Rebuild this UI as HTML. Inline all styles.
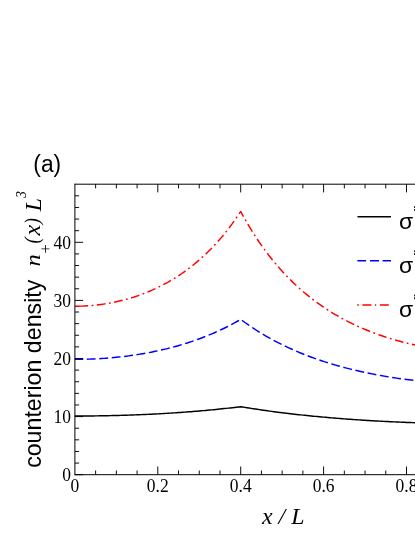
<!DOCTYPE html>
<html><head><meta charset="utf-8"><title>fig</title>
<style>
html,body{margin:0;padding:0;background:#fff;}
body{width:415px;height:537px;overflow:hidden;}
svg{display:block;}
text{fill:#000;}
.tk{font-family:"Liberation Serif",serif;font-size:17.5px;}
.sans{font-family:"Liberation Sans",sans-serif;font-size:23.4px;}
.it{font-family:"Liberation Serif",serif;font-style:italic;font-size:23.4px;}
.its{font-family:"Liberation Serif",serif;font-style:italic;font-size:15px;}
.rs{font-family:"Liberation Serif",serif;font-size:14px;}
</style></head><body>
<svg style="will-change:transform" width="415" height="537" viewBox="0 0 415 537">
<rect width="415" height="537" fill="#fff"/>
<path d="M74.90 416.02 L76.97 416.02 L79.05 416.01 L81.12 416.01 L83.19 416.00 L85.26 415.99 L87.34 415.97 L89.41 415.95 L91.48 415.93 L93.55 415.91 L95.62 415.89 L97.70 415.86 L99.77 415.83 L101.84 415.80 L103.92 415.76 L105.99 415.72 L108.06 415.68 L110.13 415.64 L112.21 415.59 L114.28 415.54 L116.35 415.49 L118.42 415.43 L120.50 415.37 L122.57 415.31 L124.64 415.25 L126.71 415.18 L128.79 415.12 L130.86 415.04 L132.93 414.97 L135.00 414.89 L137.07 414.81 L139.15 414.73 L141.22 414.64 L143.29 414.56 L145.37 414.46 L147.44 414.37 L149.51 414.27 L151.58 414.17 L153.66 414.07 L155.73 413.96 L157.80 413.85 L159.87 413.74 L161.94 413.62 L164.02 413.51 L166.09 413.38 L168.16 413.26 L170.24 413.13 L172.31 413.00 L174.38 412.86 L176.45 412.73 L178.53 412.59 L180.60 412.44 L182.67 412.29 L184.74 412.14 L186.81 411.99 L188.89 411.83 L190.96 411.67 L193.03 411.51 L195.11 411.34 L197.18 411.17 L199.25 410.99 L201.32 410.81 L203.40 410.63 L205.47 410.44 L207.54 410.25 L209.61 410.06 L211.69 409.86 L213.76 409.66 L215.83 409.46 L217.90 409.25 L219.98 409.03 L222.05 408.82 L224.12 408.59 L226.19 408.37 L228.27 408.14 L230.34 407.91 L232.41 407.67 L234.48 407.43 L236.56 407.18 L238.63 406.93 L240.70 406.67 L242.77 407.02 L244.85 407.36 L246.92 407.70 L248.99 408.04 L251.06 408.36 L253.13 408.69 L255.21 409.00 L257.28 409.32 L259.35 409.63 L261.43 409.93 L263.50 410.23 L265.57 410.52 L267.64 410.81 L269.72 411.10 L271.79 411.38 L273.86 411.66 L275.93 411.93 L278.00 412.20 L280.08 412.46 L282.15 412.72 L284.22 412.98 L286.30 413.23 L288.37 413.48 L290.44 413.72 L292.51 413.96 L294.59 414.20 L296.66 414.43 L298.73 414.66 L300.80 414.89 L302.88 415.11 L304.95 415.33 L307.02 415.54 L309.09 415.76 L311.16 415.96 L313.24 416.17 L315.31 416.37 L317.38 416.57 L319.45 416.76 L321.53 416.96 L323.60 417.14 L325.67 417.33 L327.75 417.51 L329.82 417.69 L331.89 417.87 L333.96 418.04 L336.03 418.21 L338.11 418.38 L340.18 418.54 L342.25 418.70 L344.32 418.86 L346.40 419.02 L348.47 419.17 L350.54 419.32 L352.62 419.47 L354.69 419.61 L356.76 419.75 L358.83 419.89 L360.90 420.03 L362.98 420.16 L365.05 420.30 L367.12 420.42 L369.19 420.55 L371.27 420.67 L373.34 420.80 L375.41 420.91 L377.49 421.03 L379.56 421.14 L381.63 421.26 L383.70 421.36 L385.77 421.47 L387.85 421.57 L389.92 421.68 L391.99 421.78 L394.07 421.87 L396.14 421.97 L398.21 422.06 L400.28 422.15 L402.36 422.24 L404.43 422.32 L406.50 422.41 L408.57 422.49 L410.64 422.57 L412.72 422.64 L414.79 422.72 L416.86 422.79 L418.93 422.86 L421.01 422.93 L423.08 422.99" stroke="#000" stroke-width="1.45" fill="none" stroke-linejoin="round"/>
<path d="M74.90 359.37 L76.97 359.37 L79.05 359.35 L81.53 359.32 L83.24 359.29 M86.83 359.20 L88.99 359.14 L91.48 359.04 L93.55 358.96 L95.71 358.86 M99.30 358.66 L101.43 358.53 L103.92 358.36 L105.99 358.21 L108.16 358.05 M111.74 357.74 L113.86 357.55 L116.35 357.30 L118.42 357.09 L120.59 356.85 M124.15 356.44 L126.30 356.17 L128.79 355.85 L130.86 355.57 L132.97 355.27 M136.52 354.74 L138.73 354.39 L140.81 354.05 L142.88 353.70 L145.28 353.28 M148.82 352.62 L151.17 352.17 L153.24 351.76 L155.31 351.33 L157.53 350.86 M161.03 350.08 L163.19 349.58 L165.26 349.09 L167.33 348.59 L169.67 348.00 M173.15 347.09 L175.21 346.53 L177.28 345.95 L179.77 345.24 L181.70 344.67 M185.14 343.63 L187.23 342.97 L189.30 342.30 L191.37 341.61 L193.59 340.86 M196.97 339.67 L198.84 339.00 L200.91 338.23 L203.40 337.28 L205.29 336.54 M208.62 335.20 L210.44 334.45 L212.51 333.57 L215.00 332.49 L216.79 331.69 M220.05 330.19 L222.05 329.25 L224.12 328.25 L226.19 327.23 L228.04 326.29 M231.23 324.64 L233.24 323.56 L235.31 322.43 L236.97 321.50 L239.01 320.34 M242.01 320.33 L243.60 321.50 L245.67 322.99 L247.75 324.45 L249.25 325.49 M252.22 327.50 L253.96 328.65 L256.04 329.99 L257.69 331.04 L259.71 332.30 M262.78 334.16 L264.74 335.32 L266.81 336.52 L268.47 337.46 L270.49 338.59 M273.64 340.30 L275.52 341.30 L277.59 342.38 L279.66 343.43 L281.54 344.37 M284.77 345.94 L286.71 346.86 L288.78 347.83 L290.85 348.77 L292.85 349.66 M296.14 351.09 L297.90 351.84 L299.97 352.71 L302.46 353.72 L304.36 354.48 M307.71 355.78 L309.51 356.46 L311.58 357.23 L314.07 358.13 L316.05 358.84 M319.44 360.01 L321.53 360.72 L323.60 361.40 L325.67 362.07 L327.89 362.77 M331.33 363.83 L333.55 364.50 L335.62 365.10 L337.69 365.70 L339.86 366.31 M343.33 367.25 L345.57 367.85 L347.64 368.38 L349.71 368.91 L351.94 369.46 M355.43 370.30 L357.59 370.81 L359.66 371.28 L361.73 371.75 L364.10 372.26 M367.61 373.01 L370.02 373.50 L372.10 373.91 L374.17 374.32 L376.33 374.73 M379.86 375.38 L382.04 375.77 L384.12 376.13 L386.19 376.49 L388.62 376.89 M392.17 377.46 L394.48 377.81 L396.55 378.12 L398.62 378.42 L400.96 378.76 M404.52 379.24 L406.91 379.55 L408.99 379.82 L411.06 380.07 L413.34 380.34 M416.91 380.75 L418.52 380.93 L420.18 381.11 L421.42 381.24 L423.08 381.41" stroke="#0000ff" stroke-width="1.45" fill="none" stroke-linejoin="round"/>
<path d="M74.90 306.21 L78.22 306.18 L81.53 306.10 L84.85 305.96 L88.13 305.77 M91.61 305.50 L91.89 305.48 L92.31 305.44 L93.14 305.36 L93.40 305.34 M96.87 304.98 L98.94 304.73 L101.01 304.47 L103.50 304.12 L105.48 303.81 M108.93 303.24 L109.30 303.17 L109.72 303.10 L110.55 302.94 L110.70 302.92 M114.12 302.25 L116.35 301.77 L118.42 301.31 L120.50 300.82 L122.59 300.30 M125.97 299.42 L126.30 299.32 L126.71 299.21 L127.54 298.98 L127.70 298.93 M131.05 297.95 L132.93 297.37 L135.00 296.70 L137.49 295.87 L139.30 295.23 M142.58 294.03 L142.88 293.92 L143.29 293.76 L144.12 293.44 L144.26 293.39 M147.50 292.09 L149.51 291.26 L151.58 290.36 L153.66 289.44 L155.46 288.61 M158.61 287.10 L158.63 287.09 L159.04 286.89 L159.87 286.47 L160.22 286.30 M163.32 284.70 L165.26 283.67 L167.33 282.53 L168.99 281.59 L170.91 280.47 M173.90 278.67 L173.97 278.63 L174.38 278.38 L175.21 277.86 L175.43 277.72 M178.37 275.83 L179.77 274.91 L181.84 273.50 L183.91 272.06 L185.52 270.90 M188.33 268.83 L188.47 268.72 L188.89 268.41 L189.72 267.78 L189.76 267.74 M192.51 265.59 L193.86 264.51 L195.52 263.15 L197.59 261.40 L199.19 260.03 M201.80 257.71 L202.15 257.39 L202.57 257.01 L202.98 256.63 L203.13 256.50 M205.67 254.11 L207.13 252.72 L208.78 251.09 L210.44 249.42 L211.84 247.99 M214.25 245.46 L214.59 245.10 L215.00 244.65 L215.42 244.20 L215.47 244.14 M217.81 241.56 L219.15 240.05 L220.80 238.14 L222.05 236.67 L223.47 234.96 M225.68 232.26 L225.78 232.13 L226.19 231.61 L226.61 231.09 L226.80 230.85 M228.94 228.09 L230.34 226.26 L231.58 224.59 L232.82 222.90 L234.11 221.11 M236.13 218.26 L236.14 218.24 L236.56 217.64 L236.97 217.04 L237.15 216.78 M239.10 213.89 L240.29 212.10 L240.70 211.47 L241.53 213.01 L242.36 214.53 L243.47 216.56 M245.18 219.60 L245.26 219.73 L245.67 220.46 L246.08 221.16 M247.83 224.18 L248.99 226.13 L250.23 228.19 L251.48 230.22 L252.34 231.61 M254.21 234.55 L254.38 234.82 L254.79 235.46 L255.18 236.07 M257.10 238.98 L258.11 240.49 L259.35 242.32 L261.01 244.71 L262.02 246.14 M264.06 248.98 L264.33 249.35 L264.74 249.92 L265.12 250.43 M267.21 253.23 L268.47 254.88 L269.72 256.48 L270.96 258.06 L272.57 260.07 M274.78 262.76 L275.10 263.15 L275.52 263.64 L275.93 264.13 L275.94 264.14 M278.21 266.79 L279.66 268.45 L281.32 270.31 L282.56 271.68 L284.02 273.25 M286.42 275.79 L286.71 276.09 L287.12 276.52 L287.54 276.95 L287.67 277.08 M290.12 279.57 L291.68 281.11 L293.34 282.72 L295.00 284.29 L296.39 285.59 M298.97 287.94 L299.14 288.10 L299.56 288.47 L299.97 288.84 L300.31 289.14 M302.94 291.43 L304.53 292.78 L306.19 294.16 L308.26 295.85 L309.65 296.96 M312.40 299.10 L312.41 299.11 L312.82 299.43 L313.65 300.06 L313.83 300.19 M316.63 302.27 L318.21 303.42 L320.28 304.89 L322.36 306.33 L323.74 307.27 M326.65 309.20 L326.92 309.37 L327.33 309.64 L328.16 310.17 L328.17 310.17 M331.12 312.03 L333.13 313.27 L335.21 314.51 L336.86 315.48 L338.59 316.47 M341.64 318.17 L341.84 318.28 L342.25 318.51 L343.08 318.96 L343.22 319.03 M346.30 320.67 L348.06 321.57 L350.13 322.62 L352.20 323.64 L354.08 324.54 M357.24 326.02 L357.59 326.17 L358.00 326.36 L358.83 326.74 L358.88 326.76 M362.07 328.17 L363.81 328.91 L365.88 329.78 L368.37 330.79 L370.11 331.49 M373.36 332.74 L373.75 332.89 L374.17 333.05 L375.00 333.36 L375.05 333.37 M378.33 334.57 L380.39 335.29 L382.46 336.00 L384.53 336.69 L386.56 337.35 M389.89 338.39 L390.33 338.53 L390.75 338.66 L391.16 338.78 L391.61 338.92 M394.96 339.90 L396.97 340.47 L399.04 341.04 L401.53 341.70 L403.35 342.18 M406.73 343.02 L406.91 343.07 L407.33 343.17 L408.16 343.37 L408.48 343.44 M411.88 344.23 L413.96 344.69 L416.03 345.14 L418.11 345.57 L420.38 346.03" stroke="#ff0000" stroke-width="1.45" fill="none" stroke-linejoin="round"/>
<path d="M95.62 474.7 v-4.2 M95.62 184.2 v4.2 M116.35 474.7 v-4.2 M116.35 184.2 v4.2 M137.08 474.7 v-4.2 M137.08 184.2 v4.2 M157.80 474.7 v-8.2 M157.80 184.2 v8.2 M178.53 474.7 v-4.2 M178.53 184.2 v4.2 M199.25 474.7 v-4.2 M199.25 184.2 v4.2 M219.98 474.7 v-4.2 M219.98 184.2 v4.2 M240.70 474.7 v-8.2 M240.70 184.2 v8.2 M261.43 474.7 v-4.2 M261.43 184.2 v4.2 M282.15 474.7 v-4.2 M282.15 184.2 v4.2 M302.88 474.7 v-4.2 M302.88 184.2 v4.2 M323.60 474.7 v-8.2 M323.60 184.2 v8.2 M344.33 474.7 v-4.2 M344.33 184.2 v4.2 M365.05 474.7 v-4.2 M365.05 184.2 v4.2 M385.77 474.7 v-4.2 M385.77 184.2 v4.2 M406.50 474.7 v-8.2 M406.50 184.2 v8.2 M427.23 474.7 v-4.2 M427.23 184.2 v4.2 M74.9 474.70 h8.2 M74.9 463.08 h4.2 M74.9 451.46 h4.2 M74.9 439.84 h4.2 M74.9 428.22 h4.2 M74.9 416.60 h8.2 M74.9 404.98 h4.2 M74.9 393.36 h4.2 M74.9 381.74 h4.2 M74.9 370.12 h4.2 M74.9 358.50 h8.2 M74.9 346.88 h4.2 M74.9 335.26 h4.2 M74.9 323.64 h4.2 M74.9 312.02 h4.2 M74.9 300.40 h8.2 M74.9 288.78 h4.2 M74.9 277.16 h4.2 M74.9 265.54 h4.2 M74.9 253.92 h4.2 M74.9 242.30 h8.2 M74.9 230.68 h4.2 M74.9 219.06 h4.2 M74.9 207.44 h4.2 M74.9 195.82 h4.2" stroke="#000" stroke-width="0.95" fill="none"/>
<path d="M74.9 184.2 H420 M74.9 474.7 H420 M74.9 183.7 V475.2" stroke="#000" stroke-width="1.0" fill="none"/>
<path d="M357.5 216.8 H391" stroke="#000" stroke-width="1.45"/>
<path d="M357.4 260.7 h8.7 m3.9 0 h9 m3.6 0 h8.4" stroke="#0000ff" stroke-width="1.45"/>
<path d="M357.2 305.0 h1.6 m3.6 0 h9 m3.5 0 h1.3 m3.7 0 h8.9" stroke="#ff0000" stroke-width="1.45"/>
<text transform="translate(74.90 491.50) scale(1 1.1)" class="tk" text-anchor="middle">0</text>
<text transform="translate(157.80 491.50) scale(1 1.1)" class="tk" text-anchor="middle">0.2</text>
<text transform="translate(240.70 491.50) scale(1 1.1)" class="tk" text-anchor="middle">0.4</text>
<text transform="translate(323.60 491.50) scale(1 1.1)" class="tk" text-anchor="middle">0.6</text>
<text transform="translate(406.50 491.50) scale(1 1.1)" class="tk" text-anchor="middle">0.8</text>
<text transform="translate(70.90 480.90) scale(1 1.1)" class="tk" text-anchor="end">0</text>
<text transform="translate(70.90 422.80) scale(1 1.1)" class="tk" text-anchor="end">10</text>
<text transform="translate(70.90 364.70) scale(1 1.1)" class="tk" text-anchor="end">20</text>
<text transform="translate(70.90 306.60) scale(1 1.1)" class="tk" text-anchor="end">30</text>
<text transform="translate(70.90 248.50) scale(1 1.1)" class="tk" text-anchor="end">40</text>
<text transform="translate(33.30 172.00) scale(0.975 1.05)" class="sans">(a)</text>
<text transform="translate(398.90 228.50) scale(0.98 0.93)" class="sans">σ</text>
<path d="M414.5 206.20 v1.8 M414.5 208.90 v1.9" stroke="#222" stroke-width="1"/>
<text transform="translate(398.90 272.70) scale(0.98 0.93)" class="sans">σ</text>
<path d="M414.5 250.40 v1.8 M414.5 253.10 v1.9" stroke="#222" stroke-width="1"/>
<text transform="translate(398.90 316.90) scale(0.98 0.93)" class="sans">σ</text>
<path d="M414.5 294.60 v1.8 M414.5 297.30 v1.9" stroke="#222" stroke-width="1"/>
<text transform="translate(262.00 523.80) scale(1.02 1.03)" class="it" xml:space="preserve">x / L</text>
<text transform="translate(40.60 467.87) rotate(-90)" class="sans" style="font-size:23.2px" xml:space="preserve">counterion density</text>
<text transform="translate(40.30 266.38) rotate(-90) scale(1.05 0.93)" class="it">n</text>
<text transform="translate(50.70 253.56) rotate(-90)" class="rs" style="font-size:16.5px">+</text>
<text transform="translate(39.30 243.45) rotate(-90) scale(0.79 0.93)" class="it">(</text>
<text transform="translate(40.20 235.61) rotate(-90) scale(1.03 0.95)" class="it">x</text>
<text transform="translate(39.30 224.23) rotate(-90) scale(0.79 0.93)" class="it">)</text>
<text transform="translate(40.80 211.22) rotate(-90)" class="it">L</text>
<text transform="translate(25.60 197.69) rotate(-90) scale(0.88 1)" class="its">3</text>
</svg>
</body></html>
